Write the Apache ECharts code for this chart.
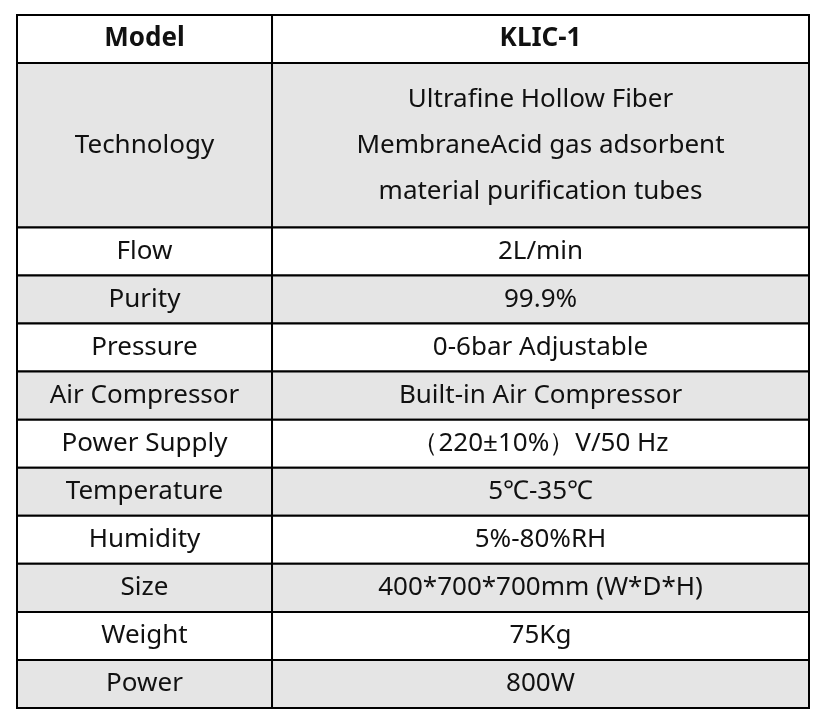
<!DOCTYPE html>
<html><head><meta charset="utf-8">
<script src="https://cdn.jsdelivr.net/npm/echarts@6/dist/echarts.min.js"></script>
<style>html,body{margin:0;padding:0;background:#fff}#c{width:826px;height:724px}</style>
</head><body><div id="c"></div>
<script>
const labels = ["Model","Technology","Flow","Purity","Pressure","Air Compressor","Power Supply","Temperature","Humidity","Size","Weight","Power"];
const values = ["KLIC-1","Ultrafine Hollow Fiber\nMembraneAcid gas adsorbent\nmaterial purification tubes","2L/min","99.9%","0-6bar Adjustable","Built-in Air Compressor","（220±10%）V/50 Hz","5℃-35℃","5%-80%RH","400*700*700mm (W*D*H)","75Kg","800W"];
const rowSpans = [1,3.42,1,1,1,1,1,1,1,1,1,1];
const shaded = [false,true,false,true,false,true,false,true,false,true,false,true];

const starts = []; let acc = 0;
rowSpans.forEach(s => { starts.push(acc); acc += s; });
const total = acc;
const split = 0.322;
const data = labels.map((l,i) => [i, starts[i], starts[i] + rowSpans[i]]);

const chart = echarts.init(document.getElementById('c'));
chart.setOption({
  animation:false,
  grid:{left:17,right:17,top:15,bottom:16},
  xAxis:{type:'value',min:0,max:1,show:false},
  yAxis:{type:'value',min:0,max:total,inverse:true,show:false},
  series:[{
    type:'custom',
    data:data,
    renderItem:function(params, api){
      const i = api.value(0);
      const p0 = api.coord([0, api.value(1)]);
      const pm = api.coord([split, api.value(1)]);
      const p1 = api.coord([1, api.value(2)]);
      const fill = shaded[i] ? '#e5e5e5' : '#ffffff';
      const bold = i === 0;
      const font = {fontFamily:'"Noto Sans", sans-serif', fontSize:26, fontWeight: bold ? 'bold':'normal', fill:'#111', align:'center', verticalAlign:'middle', lineHeight:46, letterSpacing:1.6};
      const h = p1[1]-p0[1];
      return {type:'group', children:[
        {type:'rect', shape:{x:p0[0],y:p0[1],width:pm[0]-p0[0],height:h}, style:{fill:fill,stroke:'#000',lineWidth:2}},
        {type:'rect', shape:{x:pm[0],y:p0[1],width:p1[0]-pm[0],height:h}, style:{fill:fill,stroke:'#000',lineWidth:2}},
        {type:'text', style:Object.assign({text:labels[i], x:(p0[0]+pm[0])/2, y:p0[1]+h/2}, font)},
        {type:'text', style:Object.assign({text:values[i], x:(pm[0]+p1[0])/2, y:p0[1]+h/2}, font)}
      ]};
    }
  }]
});
</script></body></html>
